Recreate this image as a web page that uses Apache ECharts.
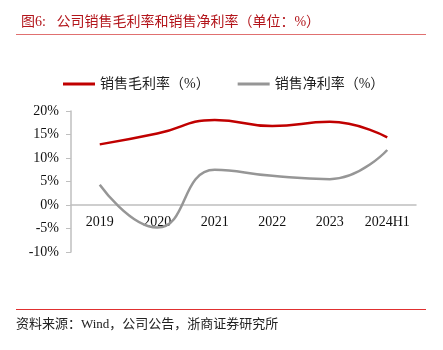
<!DOCTYPE html>
<html>
<head>
<meta charset="utf-8">
<script src="https://cdn.jsdelivr.net/npm/echarts@6/dist/echarts.min.js"></script>
<style>
  html, body { margin: 0; padding: 0; background: #fff; }
  #chart { width: 443px; height: 350px; }
</style>
</head>
<body>
<div id="chart"></div>
<script>
const categories = ["2019", "2020", "2021", "2022", "2023", "2024H1"];
const grossMargin = [12.9, 15.2, 18.1, 16.8, 17.7, 14.4];
const netMargin = [4.3, -4.8, 7.5, 6.2, 5.5, 11.7];
const yTicks = { min: -10, max: 20, interval: 5 };

const serif = '"Liberation Serif", "Noto Sans CJK SC", serif';
const gridTop = 111;
const gridBottom = 98;
const gridHeight = 350 - gridTop - gridBottom;
// x axis sits on the 0% line, labels just below it
const zeroOffset = -((0 - yTicks.min) / (yTicks.max - yTicks.min)) * gridHeight;

let myChart = echarts.init(document.getElementById("chart"));
myChart.setOption({
  animation: false,
  title: {
    text: "图6:   公司销售毛利率和销售净利率（单位：%）",
    left: 16,
    top: 10,
    textStyle: { fontSize: 14, fontWeight: "normal", color: "#b3151b", fontFamily: serif },
  },
  legend: {
    top: 77,
    left: 63,
    padding: 0,
    itemWidth: 32,
    itemHeight: 3,
    itemGap: 28,
    icon: "rect",
    textStyle: { fontSize: 14, color: "#222", fontFamily: serif },
    data: ["销售毛利率（%）", "销售净利率（%）"],
  },
  grid: { left: 71, right: 27, top: gridTop, bottom: gridBottom },
  xAxis: {
    type: "category",
    data: categories,
    position: "bottom",
    offset: zeroOffset,
    axisLine: { onZero: false, lineStyle: { color: "#bfbfbf", width: 1.5 } },
    axisTick: { show: false },
    axisLabel: { interval: 0, fontSize: 14, color: "#111", fontFamily: serif, margin: 10 },
  },
  yAxis: {
    type: "value",
    min: yTicks.min,
    max: yTicks.max,
    interval: yTicks.interval,
    axisLine: { show: true, lineStyle: { color: "#bfbfbf", width: 1.5 } },
    axisTick: { show: true, length: 5, lineStyle: { color: "#bfbfbf" } },
    splitLine: { show: false },
    axisLabel: { fontSize: 14, color: "#111", fontFamily: serif, margin: 12, formatter: "{value}%" },
  },
  series: [
    {
      name: "销售毛利率（%）",
      type: "line",
      smooth: true,
      symbol: "none",
      data: grossMargin,
      itemStyle: { color: "#c00000" },
      lineStyle: { color: "#c00000", width: 2.5 },
    },
    {
      name: "销售净利率（%）",
      type: "line",
      smooth: true,
      symbol: "none",
      data: netMargin,
      itemStyle: { color: "#969696" },
      lineStyle: { color: "#969696", width: 2.5 },
    },
  ],
  graphic: [
    { type: "rect", shape: { x: 16, y: 34, width: 410, height: 1 }, style: { fill: "#e07070" } },
    { type: "rect", shape: { x: 16, y: 309, width: 410, height: 1 }, style: { fill: "#e03030" } },
    {
      type: "text",
      left: 16,
      top: 318,
      style: { text: "资料来源：Wind，公司公告，浙商证券研究所", fontSize: 13, fill: "#222", fontFamily: serif },
    },
  ],
});
</script>
</body>
</html>
